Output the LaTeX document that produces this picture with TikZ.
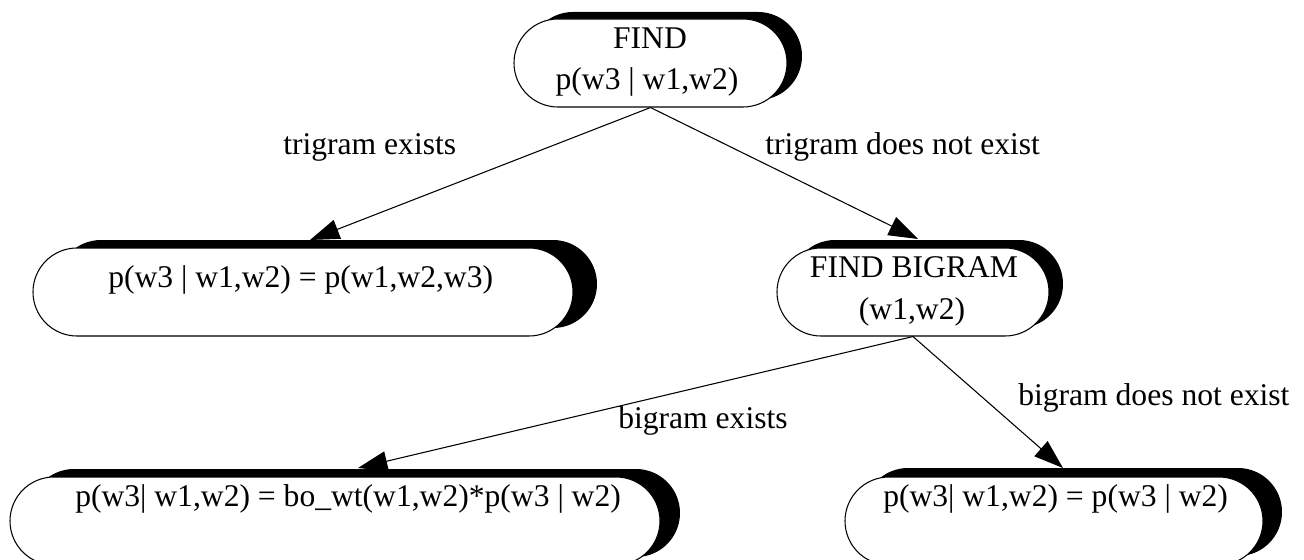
\documentclass[tikz,border=0pt]{standalone}
\usepackage{fontspec}
\setmainfont{Liberation Serif}
\usetikzlibrary{shapes.misc,shadows,arrows.meta}

\tikzset{
  pill/.style n args={3}{
    rounded rectangle, draw=black, fill=white, line width=0.8pt,
    inner sep=0pt, minimum height=66pt, minimum width=#1,
    drop shadow={shadow xshift=#2, shadow yshift=#3,
                 shadow scale=1, fill=black, opacity=1}},
  txt/.style={inner sep=0pt, anchor=base,
              font=\fontsize{23.7}{28}\selectfont},
  txtw/.style={txt, anchor=base west},
  link/.style={line width=0.8pt,
               -{Triangle[length=22pt, width=15pt]}},
}

\begin{document}
\begin{tikzpicture}[x=0.75pt, y=-0.75pt]
  \useasboundingbox (0,0) rectangle (1304,560);
  \clip (0,0) rectangle (1304,560);

  % decision boxes
  \node[pill={204.75pt}{11.25pt}{5.25pt}] (find)  at (650.5,63) {};
  \node[pill={405pt}{18pt}{6pt}]          (tri)   at (303,292) {};
  \node[pill={204pt}{10.5pt}{6pt}]        (big)   at (913,292) {};
  \node[pill={487.5pt}{15pt}{6pt}]        (bo)    at (335,521) {};
  \node[pill={313.5pt}{14.25pt}{6.75pt}]  (uni)   at (1054,521) {};

  % box texts
  \node[txt] (findA) at (650,49) {FIND};
  \node[txt] (findB) at (647,90) {p(w3 | w1,w2)};
  \node[txtw] (triA) at (108,287) {p(w3 | w1,w2) = p(w1,w2,w3)};
  \node[txt] (bigA) at (914,277) {FIND BIGRAM};
  \node[txt] (bigB) at (912,319) {(w1,w2)};
  \node[txtw] (boA) at (75,506) {p(w3| w1,w2) = bo\_wt(w1,w2)*p(w3 | w2)};
  \node[txtw] (uniA) at (883,506) {p(w3| w1,w2) = p(w3 | w2)};

  % arrow end points on the box tops
  \coordinate (triT) at (310,240);
  \coordinate (bigT) at (918,239);
  \coordinate (boT)  at (358,468);
  \coordinate (uniT) at (1063,468);

  % connectors
  \draw[link] (find.south) -- (triT);
  \draw[link] (find.south) -- (bigT);
  \draw[link] (big.south) -- (boT);
  \draw[link] (big.south) -- (uniT);

  % connector labels
  \node[txtw] (l1) at (283,155) {trigram exists};
  \node[txtw] (l2) at (765,155) {trigram does not exist};
  \node[txtw] (l3) at (618,428) {bigram exists};
  \node[txtw] (l4) at (1018,405) {bigram does not exist};
\end{tikzpicture}
\end{document}
